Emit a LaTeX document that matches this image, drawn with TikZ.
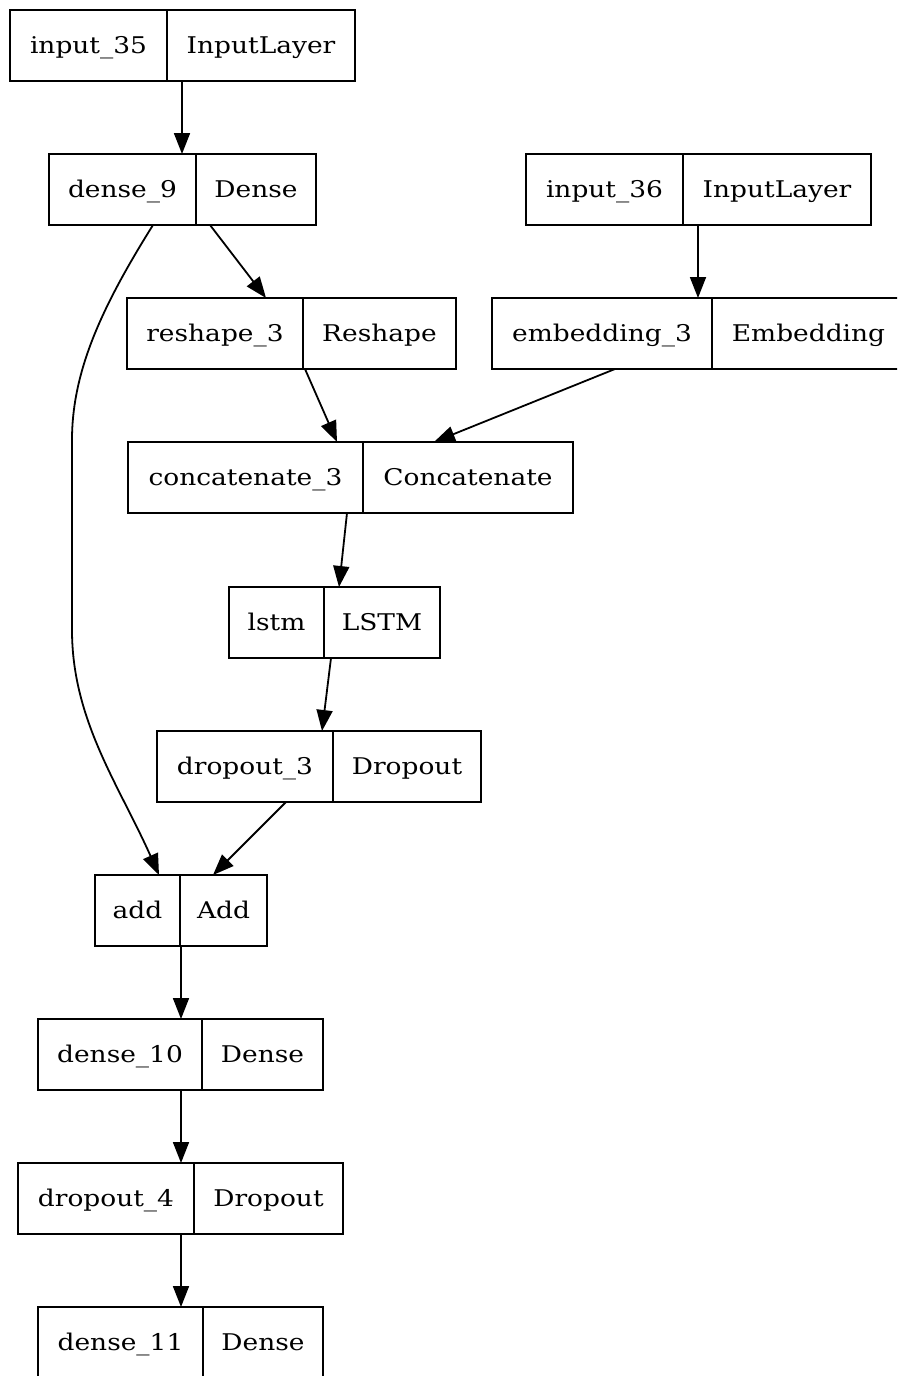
\documentclass[tikz,border=0pt]{standalone}
\usepackage{fontspec}
\setmainfont{DejaVu Serif}[FakeStretch=1.15]
\usetikzlibrary{arrows.meta,calc}

\tikzset{
  cell/.style={draw, line width=1.8pt, minimum height=71, inner sep=0pt, outer sep=0pt,
    text height=20pt, text depth=4pt, font=\fontsize{23}{27}\selectfont},
  link/.style={line width=1.8pt, -{Triangle[length=21pt,width=16pt]}}
}

\begin{document}
\begin{tikzpicture}[x=1pt,y=-1pt]
    \useasboundingbox (0,0) rectangle (897,1376);
    \clip (0,0) rectangle (897,1376);

    % first branch
    \node[cell, anchor=north west, minimum width=157] (in35) at (10,10) {input\_35};
    \node[cell, anchor=west, minimum width=188] (in35t) at (in35.east) {InputLayer};

    \node[cell, anchor=north west, minimum width=147] (dense9) at (49,154) {dense\_9};
    \node[cell, anchor=west, minimum width=120] (dense9t) at (dense9.east) {Dense};

    \node[cell, anchor=north west, minimum width=176] (resh3) at (127,298) {reshape\_3};
    \node[cell, anchor=west, minimum width=153] (resh3t) at (resh3.east) {Reshape};

    % second branch
    \node[cell, anchor=north west, minimum width=157] (in36) at (526,154) {input\_36};
    \node[cell, anchor=west, minimum width=188] (in36t) at (in36.east) {InputLayer};

    \node[cell, anchor=north west, minimum width=220] (emb3) at (492,298) {embedding\_3};
    \node[cell, anchor=west, minimum width=193] (emb3t) at (emb3.east) {Embedding};

    % merged part
    \node[cell, anchor=north west, minimum width=235] (conc3) at (128,442) {concatenate\_3};
    \node[cell, anchor=west, minimum width=210] (conc3t) at (conc3.east) {Concatenate};

    \node[cell, anchor=north west, minimum width=95] (lstm) at (229,587) {lstm};
    \node[cell, anchor=west, minimum width=116] (lstmt) at (lstm.east) {LSTM};

    \node[cell, anchor=north west, minimum width=176] (drop3) at (157,731) {dropout\_3};
    \node[cell, anchor=west, minimum width=148] (drop3t) at (drop3.east) {Dropout};

    \node[cell, anchor=north west, minimum width=85] (add) at (95,875) {add};
    \node[cell, anchor=west, minimum width=87] (addt) at (add.east) {Add};

    \node[cell, anchor=north west, minimum width=164] (dense10) at (38,1019) {dense\_10};
    \node[cell, anchor=west, minimum width=121] (dense10t) at (dense10.east) {Dense};

    \node[cell, anchor=north west, minimum width=176] (drop4) at (18,1163) {dropout\_4};
    \node[cell, anchor=west, minimum width=149] (drop4t) at (drop4.east) {Dropout};

    \node[cell, anchor=north west, minimum width=165] (dense11) at (38,1307) {dense\_11};
    \node[cell, anchor=west, minimum width=120] (dense11t) at (dense11.east) {Dense};

    % edges
    \draw[link] ($(in35.south east)+(15,0)$) -- ($(dense9.north east)+(-14,0)$);
    \draw[link] ($(dense9.south east)+(14,0)$) -- ($(resh3.north east)+(-37,0)$);
    \draw[link] ($(dense9.south east)+(-43,0)$) .. controls +(-50,80) and +(0,-70) .. (72,440)
        -- (72,630) .. controls +(0,90) and +(-40,-90) .. ($(add.north east)+(-21,0)$);
    \draw[link] ($(in36.south east)+(15,0)$) -- ($(emb3.north east)+(-14,0)$);
    \draw[link] ($(resh3.south east)+(2,0)$) -- ($(conc3.north east)+(-26,0)$);
    \draw[link] ($(emb3.south east)+(-97,0)$) -- ($(conc3.north east)+(71,0)$);
    \draw[link] ($(conc3.south east)+(-16,0)$) -- ($(lstm.north east)+(15,0)$);
    \draw[link] ($(lstm.south east)+(7,0)$) -- ($(drop3.north east)+(-11,0)$);
    \draw[link] ($(drop3.south east)+(-47,0)$) -- ($(add.north east)+(33,0)$);
    \draw[link] ($(add.south east)+(1,0)$) -- ($(dense10.north east)+(-21,0)$);
    \draw[link] ($(dense10.south east)+(-21,0)$) -- ($(drop4.north east)+(-13,0)$);
    \draw[link] ($(drop4.south east)+(-13,0)$) -- ($(dense11.north east)+(-22,0)$);

\end{tikzpicture}
\end{document}
